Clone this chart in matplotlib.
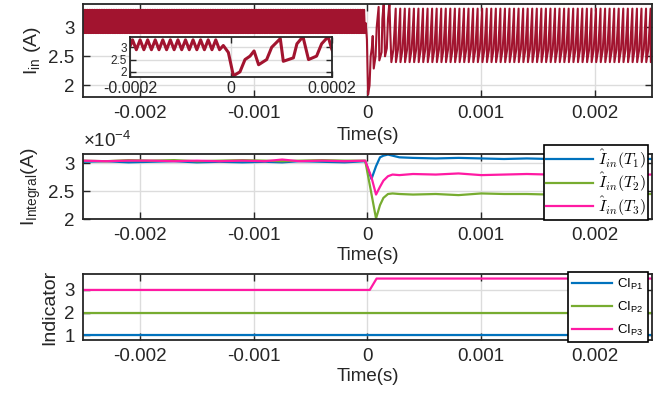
import matplotlib
matplotlib.use('Agg')
import matplotlib.pyplot as plt
import numpy as np
from matplotlib.font_manager import FontProperties
from matplotlib.ticker import FuncFormatter

plt.rcParams['font.family'] = ['Liberation Sans', 'DejaVu Sans']
plt.rcParams['mathtext.fontset'] = 'custom'
plt.rcParams['mathtext.rm'] = 'Liberation Sans'
plt.rcParams['mathtext.it'] = 'Liberation Sans:italic'
plt.rcParams['mathtext.bf'] = 'Liberation Sans:bold'

# ---- input current (top) ----
# before the event: fast zigzag, one cycle = trough, peak
pre_period = 15e-6
pre_cycle = [2.90, 3.30]
# transient around t=0
trans_t = [-0.000015, -0.000005, 0.000005, 0.000018, 0.000028, 0.000038, 0.000046,
           0.000055, 0.000071, 0.000081, 0.000098, 0.000104, 0.000124, 0.000131,
           0.000143, 0.000154, 0.00017, 0.00018, 0.000193, 0.0002]
trans_i = [3.07, 2.79, 1.84, 2.0, 2.5, 2.64, 2.85,
           2.29, 2.5, 3.0, 3.35, 2.43, 2.57, 3.14,
           3.43, 2.5, 2.64, 3.14, 3.43, 2.93]
# after the event: sawtooth, one cycle given at fractions of the period
post_period = 40e-6
post_phase = [0.0, 0.45, 0.8, 0.95]
post_cycle = [2.40, 2.62, 3.10, 3.32]

# ---- integral estimates (middle), in A ----
t_int = [-0.0025, -0.0023, -0.0021, -0.0019, -0.0017, -0.0015, -0.0013, -0.0011,
         -0.0009, -0.00075, -0.0006, -0.0004, -0.0002, -0.00002, 0.000035, 0.000075,
         0.00011, 0.00014, 0.00018, 0.00022, 0.00028, 0.0004, 0.0006, 0.0008, 0.001,
         0.0012, 0.0014, 0.0016, 0.0018, 0.002, 0.0022, 0.0025]
i_t1 = [3.03, 3.04, 3.02, 3.03, 3.04, 3.02, 3.03, 3.02, 3.03, 3.02, 3.04, 3.03, 3.02, 3.04,
        2.72, 2.95, 3.11, 3.14, 3.16, 3.14, 3.11, 3.10, 3.09, 3.10, 3.09, 3.08, 3.09, 3.08,
        3.09, 3.08, 3.09, 3.08]
i_t2 = [3.05, 3.04, 3.06, 3.05, 3.06, 3.04, 3.05, 3.06, 3.05, 3.04, 3.05, 3.06, 3.05, 3.05,
        2.45, 2.01, 2.25, 2.38, 2.45, 2.46, 2.45, 2.44, 2.45, 2.43, 2.46, 2.45, 2.45, 2.44,
        2.45, 2.44, 2.45, 2.45]
i_t3 = [3.05, 3.04, 3.05, 3.05, 3.04, 3.05, 3.04, 3.05, 3.04, 3.07, 3.04, 3.05, 3.04, 3.05,
        2.75, 2.44, 2.58, 2.69, 2.77, 2.80, 2.79, 2.81, 2.80, 2.82, 2.79, 2.80, 2.81, 2.80,
        2.80, 2.81, 2.80, 2.80]
int_scale = 1e-4
int_labels = [r'$\hat{I}_{in}(T_1)$', r'$\hat{I}_{in}(T_2)$', r'$\hat{I}_{in}(T_3)$']

# ---- indicators (bottom) ----
t_ind = [-0.0025, 0.00002, 0.00008, 0.0025]
ci_p1 = [1, 1, 1, 1]
ci_p2 = [2, 2, 2, 2]
ci_p3 = [3, 3, 3.5, 3.5]
ind_labels = [r'CI$_{\mathrm{P1}}$', r'CI$_{\mathrm{P2}}$', r'CI$_{\mathrm{P3}}$']

xticks = [-0.002, -0.001, 0, 0.001, 0.002]

c_red = '#A2142F'
c_blue = '#0072BD'
c_green = '#77AC30'
c_mag = '#FF1AA3'
txt = '#262626'

# build the top signal from the pieces above
n_pre = int(round((trans_t[0] + 0.0025) / (pre_period / 2)))
pre_t = trans_t[0] - (pre_period / 2) * np.arange(n_pre, 0, -1)
pre_i = np.array([pre_cycle[k % 2] for k in range(n_pre)])
n_post = int(np.ceil((0.0025 - 0.00021) / post_period)) + 1
post_t = np.concatenate([0.00021 + k * post_period + np.array(post_phase) * post_period
                         for k in range(n_post)])
post_i = np.tile(post_cycle, n_post)
t_in = np.concatenate([pre_t, trans_t, post_t])
i_in = np.concatenate([pre_i, trans_i, post_i])


def style(ax, fs=13.5):
    ax.tick_params(direction='in', top=True, right=True, length=5, width=1,
                   labelsize=fs, colors=txt, pad=6)
    ax.grid(True, color='#DCDCDC', linewidth=1)
    ax.set_axisbelow(True)
    for s in ax.spines.values():
        s.set_linewidth(1.3)
        s.set_color(txt)
    ax.xaxis.set_major_formatter(FuncFormatter(lambda v, p: f'{v:g}'))


fig = plt.figure(figsize=(6.6, 4), dpi=100)

ax1 = fig.add_axes([0.1258, 0.7575, 0.862, 0.2325])
ax1.plot(t_in, i_in, color=c_red, lw=1.5)
ax1.set_xlim(-0.0025, 0.0025)
ax1.set_ylim(1.8, 3.4)
ax1.set_xticks(xticks)
ax1.set_yticks([2, 2.5, 3])
style(ax1)
ax1.yaxis.set_major_formatter(FuncFormatter(lambda v, p: f'{v:g}'))
ax1.set_xlabel('Time(s)', fontsize=13.5, color=txt, labelpad=3)
ax1.set_ylabel(r'I$_{\mathrm{in}}$ (A)', fontsize=14, color=txt)

axi = fig.add_axes([0.197, 0.808, 0.3056, 0.0985])
axi.plot(t_in, i_in, color=c_red, lw=2.2)
axi.set_xlim(-0.0002, 0.0002)
axi.set_ylim(1.8, 3.4)
axi.set_xticks([-0.0002, 0, 0.0002])
axi.set_yticks([2, 2.5, 3])
style(axi, fs=11.5)
axi.tick_params(pad=3, length=4)
axi.tick_params(axis='y', labelsize=8.5, pad=2)
axi.yaxis.set_major_formatter(FuncFormatter(lambda v, p: f'{v:g}'))

ax2 = fig.add_axes([0.1258, 0.4525, 0.862, 0.1625])
for vals, col, lab in zip([i_t1, i_t2, i_t3], [c_blue, c_green, c_mag], int_labels):
    ax2.plot(t_int, np.array(vals) * int_scale, color=col, lw=1.6, label=lab)
ax2.set_xlim(-0.0025, 0.0025)
ax2.set_ylim(2.0e-4, 3.17e-4)
ax2.set_xticks(xticks)
ax2.set_yticks([2e-4, 2.5e-4, 3e-4])
style(ax2)
ax2.yaxis.set_major_formatter(FuncFormatter(lambda v, p: f'{v / int_scale:g}'))
ax2.set_xlabel('Time(s)', fontsize=13.5, color=txt, labelpad=2)
ax2.set_ylabel(r'I$_{\mathrm{Integral}}$(A)', fontsize=14, color=txt)
ax2.text(0.0, 1.05, r'×10$^{-4}$', transform=ax2.transAxes, ha='left', va='bottom',
         fontsize=13.5, color=txt)
leg2 = ax2.legend(loc='upper right', bbox_to_anchor=(0.993, 1.14), borderaxespad=0,
                  prop=FontProperties(size=11.5, math_fontfamily='cm'),
                  handlelength=2.9, labelspacing=0.0, fancybox=False,
                  edgecolor='black', framealpha=1, borderpad=0.15, handletextpad=0.3)
leg2.get_frame().set_linewidth(1.2)

ax3 = fig.add_axes([0.1258, 0.15, 0.862, 0.165])
for vals, col, lab in zip([ci_p1, ci_p2, ci_p3], [c_blue, c_green, c_mag], ind_labels):
    ax3.plot(t_ind, vals, color=col, lw=1.6, label=lab)
ax3.set_xlim(-0.0025, 0.0025)
ax3.set_ylim(0.8, 3.7)
ax3.set_xticks(xticks)
ax3.set_yticks([1, 2, 3])
style(ax3)
ax3.yaxis.set_major_formatter(FuncFormatter(lambda v, p: f'{v:g}'))
ax3.set_xlabel('Time(s)', fontsize=13.5, color=txt, labelpad=2)
ax3.set_ylabel('Indicator', fontsize=14, color=txt)
leg3 = ax3.legend(loc='upper right', bbox_to_anchor=(0.993, 1.03), borderaxespad=0,
                  fontsize=9.5, handlelength=3.0, labelspacing=0.6, fancybox=False,
                  edgecolor='black', framealpha=1, borderpad=0.35, handletextpad=0.4)
leg3.get_frame().set_linewidth(1.2)

fig.savefig('out.png', dpi=100)
